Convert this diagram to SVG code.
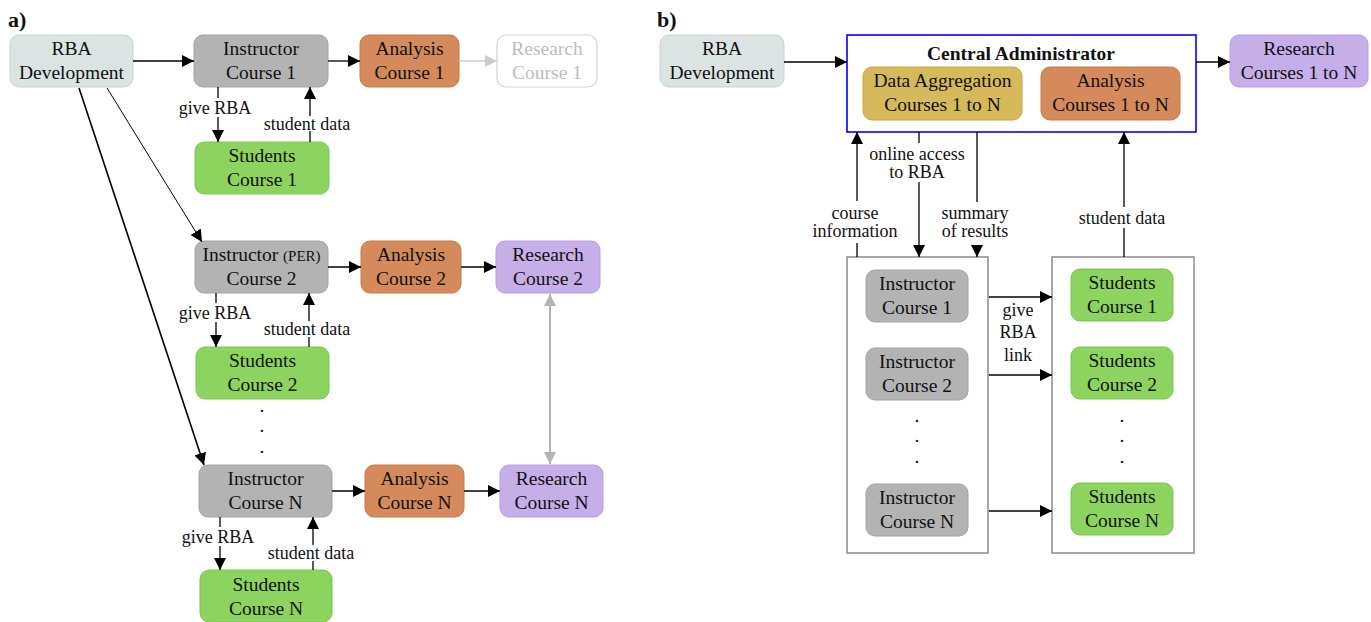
<svg xmlns="http://www.w3.org/2000/svg" width="1371" height="622" viewBox="0 0 1371 622">
<defs>
<marker id="ah" markerUnits="userSpaceOnUse" markerWidth="12" markerHeight="12" refX="12" refY="6" orient="auto"><path d="M0,0 L12,6 L0,12 z" fill="#000"/></marker>
<marker id="ahg" markerUnits="userSpaceOnUse" markerWidth="12" markerHeight="12" refX="12" refY="6" orient="auto-start-reverse"><path d="M0,0 L12,6 L0,12 z" fill="#b3b3b3"/></marker>
<marker id="ahl" markerUnits="userSpaceOnUse" markerWidth="12" markerHeight="12" refX="12" refY="6" orient="auto"><path d="M0,0 L12,6 L0,12 z" fill="#cccccc"/></marker>
</defs>
<style>
text{font-family:"Liberation Serif","Times New Roman",serif;fill:#111;}
.t{font-size:19.5px;text-anchor:middle;}
.l{font-size:18px;text-anchor:middle;}
.h{font-size:22px;font-weight:bold;}
.rba{fill:#dbe4e2;stroke:#c6d3d0;stroke-width:1;}
.ins{fill:#b3b3b3;stroke:#a3a3a3;stroke-width:1;}
.ana{fill:#d58a5b;stroke:#c77a47;stroke-width:1;}
.res{fill:#c6aee8;stroke:#b79de0;stroke-width:1;}
.stu{fill:#8dd35f;stroke:#7cc44e;stroke-width:1;}
.agg{fill:#d6b95b;stroke:#c6a73e;stroke-width:1;}
.fade{fill:#fff;stroke:#d3d3d3;stroke-width:1.2;}
.c{fill:none;stroke:#000;stroke-width:1.3;}
.a{marker-end:url(#ah);}
</style>

<text class="h" x="8" y="27">a)</text>
<text class="h" x="657" y="27">b)</text>

<!-- Panel a -->
<g id="a-rba"><rect class="rba" x="10" y="35" width="123" height="52" rx="9"/><text class="t" x="71.5" y="55">RBA</text><text class="t" x="71.5" y="79">Development</text></g>
<g id="a-instr1"><rect class="ins" x="194" y="35" width="134" height="52" rx="9"/><text class="t" x="261" y="55">Instructor</text><text class="t" x="261" y="79">Course 1</text></g>
<g id="a-ana1"><rect class="ana" x="360" y="35" width="99" height="52" rx="9"/><text class="t" x="409.5" y="55">Analysis</text><text class="t" x="409.5" y="79">Course 1</text></g>
<g id="a-res1"><rect class="fade" x="497" y="35" width="100" height="52" rx="9"/><text class="t" x="547" y="55" style="fill:#bdbdbd">Research</text><text class="t" x="547" y="79" style="fill:#bdbdbd">Course 1</text></g>
<g id="a-stu1"><rect class="stu" x="195" y="142" width="134" height="52" rx="9"/><text class="t" x="262" y="162">Students</text><text class="t" x="262" y="186">Course 1</text></g>

<g id="a-instr2"><rect class="ins" x="195" y="241" width="133" height="52" rx="9"/><text class="t" x="261.5" y="261">Instructor <tspan style="font-size:15px">(PER)</tspan></text><text class="t" x="261.5" y="285">Course 2</text></g>
<g id="a-ana2"><rect class="ana" x="361" y="241" width="100" height="52" rx="9"/><text class="t" x="411" y="261">Analysis</text><text class="t" x="411" y="285">Course 2</text></g>
<g id="a-res2"><rect class="res" x="496" y="241" width="104" height="52" rx="9"/><text class="t" x="548" y="261">Research</text><text class="t" x="548" y="285">Course 2</text></g>
<g id="a-stu2"><rect class="stu" x="196" y="347" width="133" height="52" rx="9"/><text class="t" x="262.5" y="367">Students</text><text class="t" x="262.5" y="391">Course 2</text></g>
<g id="a-dots"><text class="t" x="262" y="412">.</text><text class="t" x="262" y="432">.</text><text class="t" x="262" y="453">.</text></g>

<g id="a-instrN"><rect class="ins" x="199" y="465" width="133" height="52" rx="9"/><text class="t" x="265.5" y="485">Instructor</text><text class="t" x="265.5" y="509">Course N</text></g>
<g id="a-anaN"><rect class="ana" x="365" y="465" width="99" height="52" rx="9"/><text class="t" x="414.5" y="485">Analysis</text><text class="t" x="414.5" y="509">Course N</text></g>
<g id="a-resN"><rect class="res" x="500" y="465" width="103" height="52" rx="9"/><text class="t" x="551.5" y="485">Research</text><text class="t" x="551.5" y="509">Course N</text></g>
<g id="a-stuN"><rect class="stu" x="200" y="570" width="132" height="52" rx="9"/><text class="t" x="266" y="591">Students</text><text class="t" x="266" y="615">Course N</text></g>

<!-- Panel b -->
<g id="b-rba"><rect class="rba" x="660" y="35" width="124" height="52" rx="9"/><text class="t" x="722" y="55">RBA</text><text class="t" x="722" y="79">Development</text></g>
<g id="b-central"><rect x="847" y="35" width="349" height="97" fill="#fff" stroke="#0000ff" stroke-width="1.6"/><text x="1021" y="60" style="font-size:19.5px;font-weight:bold;text-anchor:middle">Central Administrator</text>
<g id="b-agg"><rect class="agg" x="863" y="67" width="159" height="53" rx="9"/><text class="t" x="942.5" y="87">Data Aggregation</text><text class="t" x="942.5" y="111">Courses 1 to N</text></g>
<g id="b-ana"><rect class="ana" x="1041" y="67" width="139" height="53" rx="9"/><text class="t" x="1110.5" y="87">Analysis</text><text class="t" x="1110.5" y="111">Courses 1 to N</text></g>
</g>
<g id="b-res"><rect class="res" x="1230" y="35" width="138" height="52" rx="9"/><text class="t" x="1299" y="55">Research</text><text class="t" x="1299" y="79">Courses 1 to N</text></g>

<g id="b-instr-group"><rect x="847" y="257" width="141" height="296" fill="none" stroke="#8a8a8a" stroke-width="1.5"/>
<g id="b-instr1"><rect class="ins" x="866" y="270" width="102" height="52" rx="9"/><text class="t" x="917" y="290">Instructor</text><text class="t" x="917" y="314">Course 1</text></g>
<g id="b-instr2"><rect class="ins" x="866" y="348" width="102" height="52" rx="9"/><text class="t" x="917" y="368">Instructor</text><text class="t" x="917" y="392">Course 2</text></g>
<text class="t" x="917" y="422">.</text><text class="t" x="917" y="442">.</text><text class="t" x="917" y="463">.</text>
<g id="b-instrN"><rect class="ins" x="866" y="484" width="102" height="52" rx="9"/><text class="t" x="917" y="504">Instructor</text><text class="t" x="917" y="528">Course N</text></g>
</g>
<g id="b-stu-group"><rect x="1052" y="257" width="142" height="296" fill="none" stroke="#8a8a8a" stroke-width="1.5"/>
<g id="b-stu1"><rect class="stu" x="1071" y="269" width="102" height="52" rx="9"/><text class="t" x="1122" y="289">Students</text><text class="t" x="1122" y="313">Course 1</text></g>
<g id="b-stu2"><rect class="stu" x="1071" y="347" width="102" height="52" rx="9"/><text class="t" x="1122" y="367">Students</text><text class="t" x="1122" y="391">Course 2</text></g>
<text class="t" x="1122" y="422">.</text><text class="t" x="1122" y="442">.</text><text class="t" x="1122" y="463">.</text>
<g id="b-stuN"><rect class="stu" x="1071" y="483" width="102" height="52" rx="9"/><text class="t" x="1122" y="503">Students</text><text class="t" x="1122" y="527">Course N</text></g>
</g>

<!-- Connectors -->
<g id="connectors">
<line class="c a" x1="133" y1="61" x2="194" y2="61"/>
<line class="c a" x1="328" y1="61" x2="360" y2="61"/>
<line x1="459" y1="61" x2="497" y2="61" stroke="#cccccc" stroke-width="1.3" marker-end="url(#ahl)"/>
<line class="c" x1="218" y1="87" x2="218" y2="98"/>
<line class="c a" x1="218" y1="117" x2="218" y2="142"/>
<text class="l" x="215" y="114">give RBA</text>
<line class="c" x1="310" y1="142" x2="310" y2="131"/>
<line class="c a" x1="310" y1="116" x2="310" y2="87"/>
<text class="l" x="307" y="130">student data</text>

<line class="c a" x1="107" y1="88" x2="202" y2="242" style="stroke-width:1"/>
<line class="c a" x1="79" y1="88" x2="204" y2="465" style="stroke-width:1.6"/>

<line class="c a" x1="328" y1="267" x2="361" y2="267"/>
<line class="c a" x1="461" y1="267" x2="496" y2="267"/>
<line class="c" x1="216" y1="293" x2="216" y2="303"/>
<line class="c a" x1="216" y1="322" x2="216" y2="347"/>
<text class="l" x="215" y="319">give RBA</text>
<line class="c" x1="309" y1="347" x2="309" y2="337"/>
<line class="c a" x1="309" y1="321" x2="309" y2="293"/>
<text class="l" x="307" y="335">student data</text>

<line x1="550" y1="294" x2="550" y2="464" stroke="#b3b3b3" stroke-width="2" marker-start="url(#ahg)" marker-end="url(#ahg)"/>

<line class="c a" x1="332" y1="491" x2="365" y2="491"/>
<line class="c a" x1="464" y1="491" x2="500" y2="491"/>
<line class="c" x1="220" y1="517" x2="220" y2="527"/>
<line class="c a" x1="220" y1="546" x2="220" y2="570"/>
<text class="l" x="218" y="543">give RBA</text>
<line class="c" x1="313" y1="570" x2="313" y2="561"/>
<line class="c a" x1="313" y1="545" x2="313" y2="517"/>
<text class="l" x="311" y="559">student data</text>

<line class="c a" x1="784" y1="62" x2="847" y2="62"/>
<line class="c a" x1="1196" y1="62" x2="1230" y2="62"/>

<line class="c" x1="857" y1="257" x2="857" y2="243"/>
<line class="c a" x1="857" y1="201" x2="857" y2="132"/>
<text class="l" x="855" y="219">course</text>
<text class="l" x="855" y="237">information</text>

<line class="c" x1="919" y1="132" x2="919" y2="143"/>
<line class="c a" x1="919" y1="182" x2="919" y2="257"/>
<text class="l" x="917" y="160">online access</text>
<text class="l" x="917" y="178">to RBA</text>

<line class="c" x1="977" y1="132" x2="977" y2="202"/>
<line class="c a" x1="977" y1="245" x2="977" y2="257"/>
<text class="l" x="975" y="219">summary</text>
<text class="l" x="975" y="237">of results</text>

<line class="c" x1="1124" y1="257" x2="1124" y2="228"/>
<line class="c a" x1="1124" y1="207" x2="1124" y2="132"/>
<text class="l" x="1122" y="224">student data</text>

<line class="c a" x1="989" y1="297" x2="1052" y2="297"/>
<line class="c a" x1="989" y1="375" x2="1052" y2="375"/>
<line class="c a" x1="989" y1="511" x2="1052" y2="511"/>
<text class="l" x="1018" y="316">give</text>
<text class="l" x="1018" y="338">RBA</text>
<text class="l" x="1018" y="361">link</text>
</g>
</svg>
